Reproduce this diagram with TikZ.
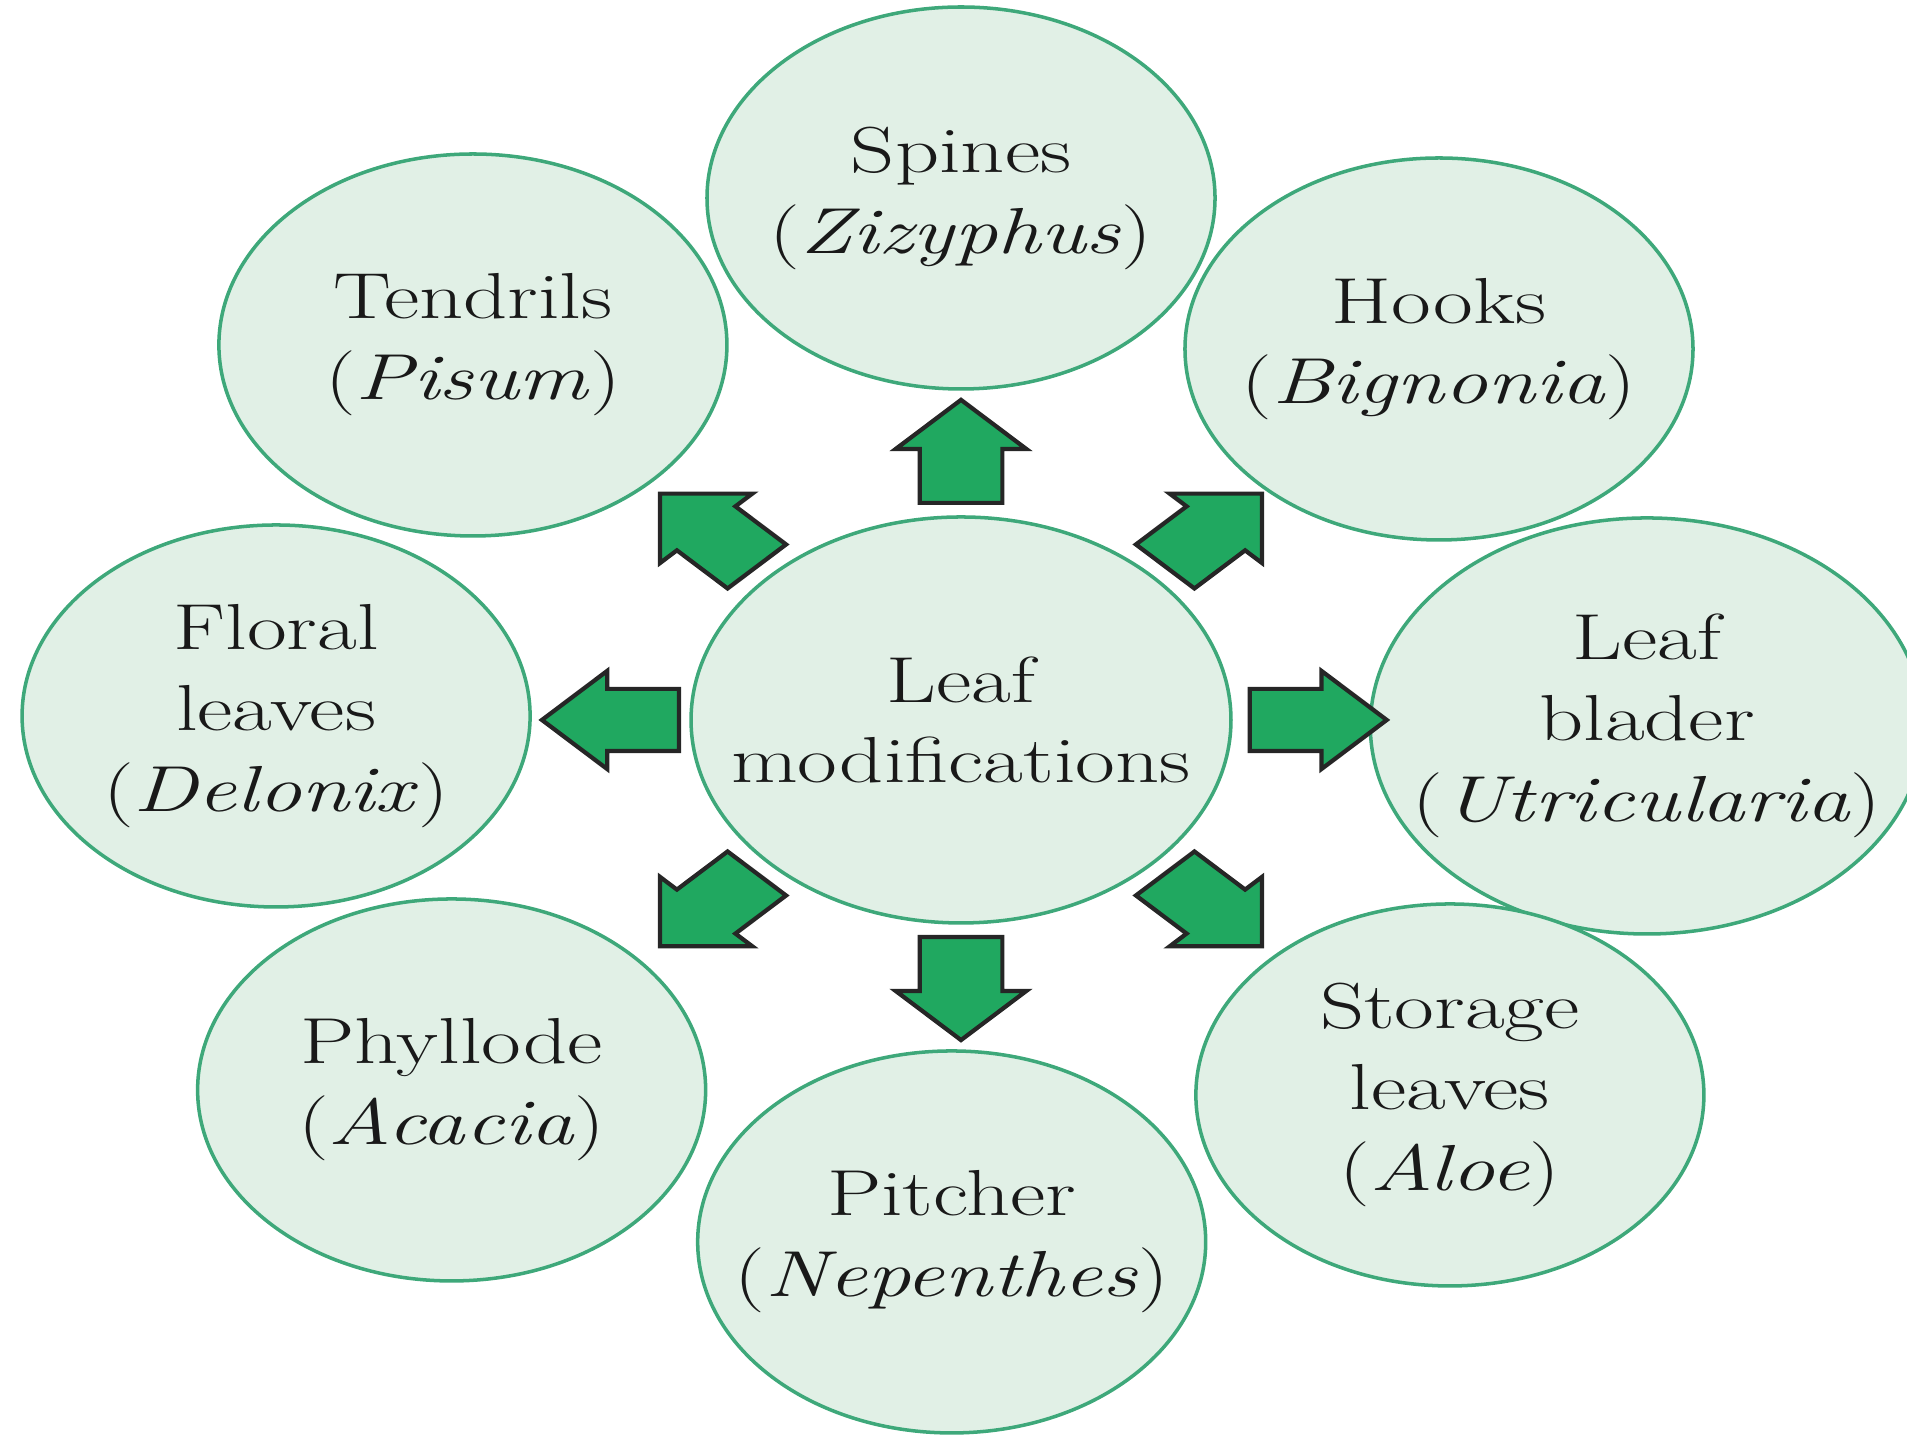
\documentclass[tikz,border=0pt]{standalone}
\usetikzlibrary{shapes.arrows}
\definecolor{leafgreen}{RGB}{225,240,230}
\definecolor{rimgreen}{RGB}{62,168,122}
\definecolor{arrowgreen}{RGB}{32,168,96}
\tikzset{
thick,
every node/.style={font=\fontsize{18.5}{23}\selectfont, text=black!90},
}

\begin{document}
\begin{tikzpicture}
    [xscale=1.33,
    transform shape,
    part/.style={circle, draw=rimgreen, fill=leafgreen, line width=1pt, minimum size=3.82cm, inner sep=0pt, align=center},
    push/.style={single arrow, draw=black!85, fill=arrowgreen, line width=1.2pt, minimum height=1.03cm, inner xsep=0pt, inner ysep=0.29cm, single arrow head extend=0.18cm, anchor=tail}
    ]
    \useasboundingbox (-7.226,-7.2) rectangle (7.113,7.2);

    \node [part, minimum size=4.06cm] (leafmod) at (0,0)
    {
        Leaf\\modifications
    };

    \node [part] (spines) at (0,5.22)
    {
        Spines\\(\textit{Zizyphus})
    };

    \node [part] (hooks) at (3.594,3.71)
    {
        Hooks\\(\textit{Bignonia})
    };

    \node [part] (blader) at (5.158,-0.06)
    {
        Leaf\\blader\\(\textit{Utricularia})
    };

    \node [part] (storage) at (3.676,-3.75)
    {
        Storage\\leaves\\(\textit{Aloe})
    };

    \node [part] (pitcher) at (-0.07,-5.22)
    {
        Pitcher\\(\textit{Nepenthes})
    };

    \node [part] (phyllode) at (-3.83,-3.70)
    {
        Phyllode\\(\textit{Acacia})
    };

    \node [part] (floral) at (-5.15,0.04)
    {
        Floral\\leaves\\(\textit{Delonix})
    };

    \node [part] (tendrils) at (-3.67,3.75)
    {
        Tendrils\\(\textit{Pisum})
    };

    \node [push, rotate=90] (to-spines) at (90:2.15) {};
    \node [push, rotate=45] (to-hooks) at (45:2.15) {};
    \node [push, rotate=0] (to-blader) at (0:2.15) {};
    \node [push, rotate=-45] (to-storage) at (-45:2.15) {};
    \node [push, rotate=-90] (to-pitcher) at (-90:2.15) {};
    \node [push, rotate=-135] (to-phyllode) at (-135:2.15) {};
    \node [push, rotate=180] (to-floral) at (180:2.10) {};
    \node [push, rotate=135] (to-tendrils) at (135:2.15) {};

\end{tikzpicture}
\end{document}
